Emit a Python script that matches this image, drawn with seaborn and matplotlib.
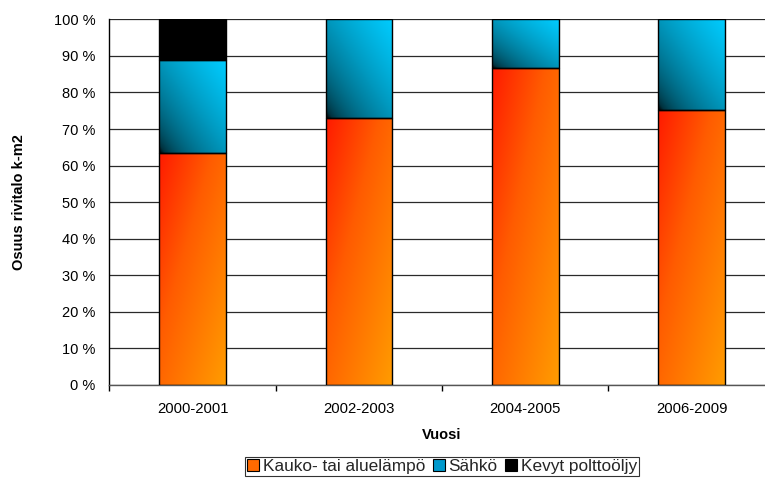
import numpy as np
import pandas as pd
import matplotlib
matplotlib.use("Agg")
import matplotlib.pyplot as plt
import seaborn as sns
from matplotlib.colors import LinearSegmentedColormap, to_rgb
from matplotlib.patches import Patch
from matplotlib.ticker import FixedLocator, FuncFormatter, NullFormatter

# Share of row-house floor area by heating source (%)
periods = ["2000-2001", "2002-2003", "2004-2005", "2006-2009"]
kaukolampo = [63.4, 73.1, 86.8, 75.1]
sahko = [25.6, 26.9, 13.2, 24.9]
polttooljy = [11.0, 0.0, 0.0, 0.0]
series_names = ["Kauko- tai aluelämpö", "Sähkö", "Kevyt polttoöljy"]

sns.set_theme(style="white")
plt.rcParams["font.family"] = ["Liberation Sans", "DejaVu Sans"]

# Gradient colour maps for the bar fills
orange_cmap = LinearSegmentedColormap.from_list(
    "orange", [(0.0, "#ff1a00"), (0.4, "#ff5c00"), (1.0, "#ff9c00")]
)
cyan = np.array(to_rgb("#00ccff"))
blue_cmap = LinearSegmentedColormap.from_list(
    "blue", [tuple(cyan * t ** 0.45) for t in np.linspace(0, 1, 24)]
)

fig = plt.figure(figsize=(7.65, 4.78), dpi=100)
ax = fig.add_axes([0.1429, 0.1946, 0.870, 0.765])

segments = [
    ("orange", kaukolampo),
    ("blue", sahko),
    ("black", polttooljy),
]

# Cumulative stacks, drawn tallest first so lower segments sit on top
bottoms = np.zeros(len(periods))
stack_info = []
for kind, vals in segments:
    vals = np.asarray(vals, dtype=float)
    stack_info.append((kind, bottoms.copy(), vals))
    bottoms = bottoms + vals

for kind, bot, vals in reversed(stack_info):
    df = pd.DataFrame({"period": periods, "top": bot + vals})
    sns.barplot(data=df, x="period", y="top", order=periods, ax=ax,
                color="black", width=0.4, edgecolor="black", linewidth=1.0,
                saturation=1, zorder=3)
    container = ax.containers[-1]
    for rect, b, v in zip(container.patches, bot, vals):
        rect.set_y(b)
        rect.set_height(v)
        if v <= 0:
            rect.set_visible(False)
            continue
        if kind == "black":
            rect.set_facecolor("black")
            continue
        rect.set_facecolor("none")
        x0, w = rect.get_x(), rect.get_width()
        n = 128
        U, V = np.meshgrid(np.linspace(0, 1, n), np.linspace(0, 1, n))
        if kind == "orange":
            T = (U + 1 - V) / 2
            cmap = orange_cmap
        else:
            T = (U + V) / 2
            cmap = blue_cmap
        im = ax.imshow(T, cmap=cmap, vmin=0, vmax=1, origin="lower",
                       extent=[x0, x0 + w, b, b + v], aspect="auto",
                       interpolation="bilinear", zorder=2.5)
        im.set_clip_path(rect)

ax.set_xlim(-0.5, 3.5)
ax.set_ylim(0, 100)

# Axes styling
ax.set_axisbelow(True)
ax.yaxis.grid(True, color="#2a2a2a", linewidth=0.9)
ax.xaxis.grid(False)
for side in ("top", "right"):
    ax.spines[side].set_visible(False)
ax.spines["left"].set_color("black")
ax.spines["left"].set_linewidth(1.0)
ax.spines["bottom"].set_color("#555555")
ax.spines["bottom"].set_linewidth(1.0)

ax.yaxis.set_major_locator(FixedLocator(np.arange(0, 101, 10)))
ax.yaxis.set_major_formatter(FuncFormatter(lambda y, _: f"{y:.0f} %"))
ax.tick_params(axis="y", which="major", direction="out", length=4,
               width=1, color="black", pad=6, labelsize=10.5, labelcolor="black")

ax.xaxis.set_major_locator(FixedLocator([-0.5, 0.5, 1.5, 2.5, 3.5]))
ax.xaxis.set_major_formatter(NullFormatter())
ax.xaxis.set_minor_locator(FixedLocator(range(len(periods))))
ax.set_xticklabels(periods, minor=True)
ax.tick_params(axis="x", which="major", direction="out", length=4,
               width=1, color="black", bottom=True)
ax.tick_params(axis="x", which="minor", length=0, pad=12, labelsize=10.7,
               labelcolor="black", bottom=True)

ax.set_xlabel("Vuosi", fontsize=10.5, fontweight="bold", color="black")
ax.set_ylabel("Osuus rivitalo k-m2", fontsize=10.5, fontweight="bold", color="black")
ax.xaxis.set_label_coords(0.5, -0.118)
ax.yaxis.set_label_coords(-0.125, 0.5)

handles = [
    Patch(facecolor="#ff6a00", edgecolor="black", linewidth=0.8, label=series_names[0]),
    Patch(facecolor="#0099cc", edgecolor="black", linewidth=0.8, label=series_names[1]),
    Patch(facecolor="black", edgecolor="black", linewidth=0.8, label=series_names[2]),
]
leg = fig.legend(handles=handles, loc="upper center", bbox_to_anchor=(0.578, 0.044),
                 ncol=3, fontsize=12.4, frameon=True, fancybox=False,
                 edgecolor="black", handlelength=0.7, handleheight=0.7,
                 handletextpad=0.2, columnspacing=0.45, borderpad=0.12,
                 borderaxespad=0)
leg.get_frame().set_linewidth(0.8)

fig.savefig("out.png", dpi=100)
